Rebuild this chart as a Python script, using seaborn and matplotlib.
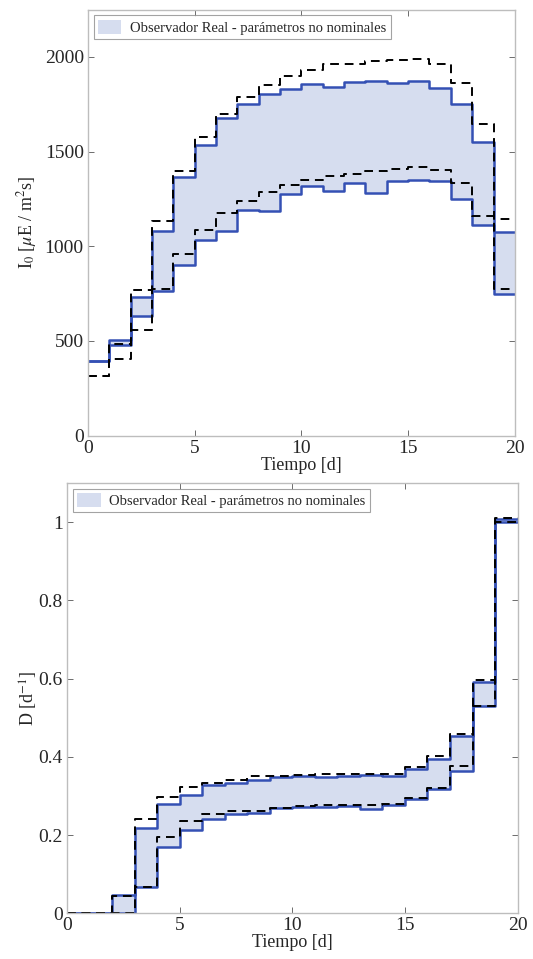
import numpy as np
import pandas as pd
import seaborn as sns
import matplotlib.pyplot as plt

# dias (inicio de cada intervalo de 1 dia)
dias = list(range(20))

# I0 - observador real, parametros no nominales
i0_sup = [395, 507, 732, 1083, 1366, 1535, 1679, 1754, 1803, 1833,
          1858, 1842, 1865, 1872, 1861, 1874, 1835, 1749, 1552, 1078]
i0_inf = [395, 481, 630, 764, 899, 1031, 1083, 1192, 1184, 1277,
          1319, 1292, 1333, 1284, 1343, 1352, 1345, 1249, 1112, 750]
# I0 - cotas (discontinuas)
i0_sup_ref = [314, 485, 771, 1133, 1396, 1577, 1700, 1788, 1854, 1898,
              1933, 1961, 1965, 1979, 1986, 1991, 1965, 1863, 1645, 1145]
i0_inf_ref = [314, 407, 557, 772, 957, 1085, 1178, 1238, 1285, 1326,
              1350, 1370, 1382, 1398, 1408, 1421, 1401, 1336, 1162, 774]

# D - observador real
d_sup = [0, 0, 0.047, 0.219, 0.280, 0.302, 0.328, 0.333, 0.341, 0.348,
         0.352, 0.348, 0.352, 0.354, 0.352, 0.369, 0.395, 0.452, 0.592, 1.007]
d_inf = [0, 0, 0, 0.066, 0.169, 0.214, 0.240, 0.254, 0.257, 0.270,
         0.271, 0.271, 0.274, 0.267, 0.277, 0.292, 0.317, 0.364, 0.529, 0.999]
d_sup_ref = [0, 0, 0.045, 0.241, 0.296, 0.322, 0.334, 0.341, 0.350, 0.351,
             0.354, 0.355, 0.356, 0.357, 0.357, 0.374, 0.402, 0.458, 0.596, 1.011]
d_inf_ref = [0, 0, 0, 0.066, 0.196, 0.235, 0.254, 0.261, 0.261, 0.270,
             0.273, 0.276, 0.277, 0.278, 0.279, 0.294, 0.319, 0.376, 0.531, 1.000]

leyenda = 'Observador Real - parámetros no nominales'
azul = '#3450b4'
relleno = '#d6ddef'

sns.set_theme(style='white')
plt.rcParams['font.family'] = ['Liberation Serif', 'DejaVu Serif']
plt.rcParams['mathtext.fontset'] = 'stix'


def ext(v):
    # repite el ultimo valor para cerrar el escalon en t=20
    return list(v) + [v[-1]]


def panel(ax, sup, inf, sup_ref, inf_ref, ylim, yticks, ylabel, yfmt, lpad):
    t = dias + [20]
    df = pd.DataFrame({'t': t, 'sup': ext(sup), 'inf': ext(inf),
                       'sup_ref': ext(sup_ref), 'inf_ref': ext(inf_ref)})
    ax.fill_between(df['t'], df['inf'], df['sup'], step='post',
                    color=relleno, linewidth=0, label=leyenda)
    for col in ['sup', 'inf']:
        sns.lineplot(data=df, x='t', y=col, ax=ax, drawstyle='steps-post',
                     color=azul, linewidth=1.8, legend=False)
    for col in ['sup_ref', 'inf_ref']:
        sns.lineplot(data=df, x='t', y=col, ax=ax, drawstyle='steps-post',
                     color='black', linewidth=1.4, linestyle=(0, (4.5, 3)),
                     legend=False)
    ax.set_xlim(0, 20)
    ax.set_ylim(*ylim)
    ax.set_xticks([0, 5, 10, 15, 20])
    ax.set_yticks(yticks)
    ax.set_yticklabels([yfmt(v) for v in yticks])
    ax.tick_params(direction='in', length=4, width=0.6, color='#555555',
                   labelsize=14, labelcolor='#262626', pad=3,
                   top=True, right=True, bottom=True, left=True)
    for s in ax.spines.values():
        s.set_color('#bdbdbd')
        s.set_linewidth(1.0)
    ax.set_xlabel('Tiempo [d]', fontsize=13, color='#262626', labelpad=0)
    ax.set_ylabel(ylabel, fontsize=13, color='#262626', labelpad=lpad)
    leg = ax.legend(loc='upper left', fontsize=10.5, frameon=True,
                    fancybox=False, borderpad=0.3, handlelength=1.6,
                    handleheight=1.1, handletextpad=0.6, borderaxespad=0.4)
    leg.get_frame().set_edgecolor('#8c8c8c')
    leg.get_frame().set_linewidth(0.8)


fig = plt.figure(figsize=(5.33, 9.59), dpi=100)
ax1 = fig.add_axes([0.165, 0.5457, 0.801, 0.4443])
ax2 = fig.add_axes([0.126, 0.0477, 0.845, 0.4487])

panel(ax1, i0_sup, i0_inf, i0_sup_ref, i0_inf_ref, (0, 2250),
      [0, 500, 1000, 1500, 2000], r'I$_0$ [$\mu$E / m$^2$s]',
      lambda v: f'{v:d}', 4)
panel(ax2, d_sup, d_inf, d_sup_ref, d_inf_ref, (0, 1.1),
      [0, 0.2, 0.4, 0.6, 0.8, 1.0], r'D [d$^{-1}$]',
      lambda v: '0' if v == 0 else ('1' if v == 1 else f'{v:.1f}'), -1)

fig.savefig('out.png', dpi=100)
